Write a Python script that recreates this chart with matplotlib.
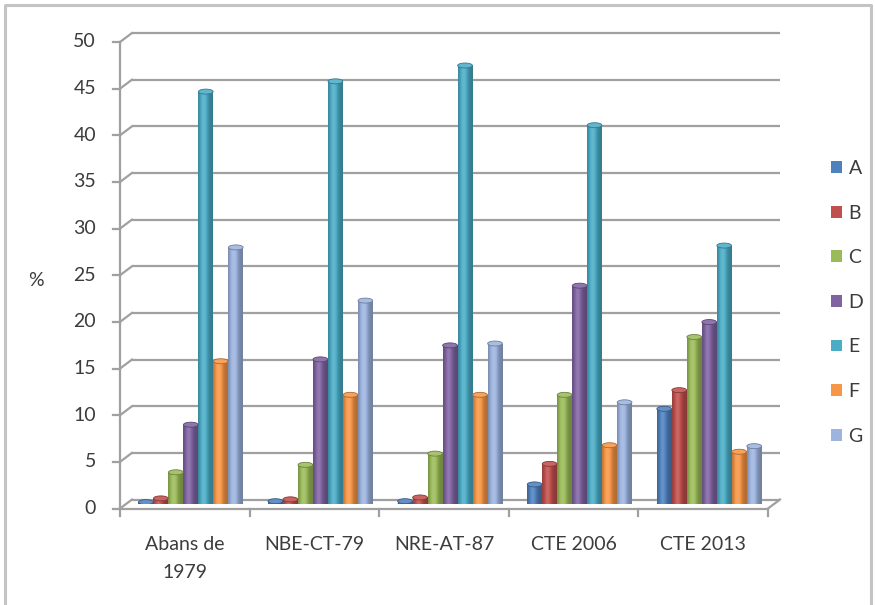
import numpy as np
import matplotlib
matplotlib.use("Agg")
import matplotlib.pyplot as plt
from matplotlib.patches import Ellipse, Patch
from matplotlib.colors import to_rgb
from matplotlib.lines import Line2D

plt.rcParams['font.family'] = ['Lato', 'DejaVu Sans']

# ---- data -------------------------------------------------------------
categories = ["Abans de\n1979", "NBE-CT-79", "NRE-AT-87", "CTE 2006", "CTE 2013"]
series_names = ["A", "B", "C", "D", "E", "F", "G"]
A = [0.2, 0.3, 0.3, 2.1, 10.2]
B = [0.6, 0.5, 0.7, 4.3, 12.2]
C = [3.4, 4.2, 5.4, 11.7, 17.9]
D = [8.5, 15.5, 17.0, 23.4, 19.5]
E = [44.2, 45.3, 47.0, 40.6, 27.7]
F = [15.3, 11.7, 11.7, 6.3, 5.6]
G = [27.5, 21.8, 17.2, 10.9, 6.2]
series_values = [A, B, C, D, E, F, G]
y_ticks = list(range(0, 55, 5))
colors = ["#4F81BD", "#C0504D", "#9BBB59", "#8064A2", "#4BACC6", "#F79646", "#9DB4DF"]

TEXT = "#3c3c3c"
GRID = "#a0a0a0"
FS = 14

W, H = 875, 605
fig = plt.figure(figsize=(W / 100, H / 100), dpi=100)
fig.patch.set_facecolor("white")

# plot region at mid depth (pixels)
x_left, x_right = 126, 774
y_base, y_top = 504, 37.5
ax = fig.add_axes([x_left / W, (H - y_base) / H,
                   (x_right - x_left) / W, (y_base - y_top) / H])
ax.set_xlim(0, len(categories))
ax.set_ylim(0, 50)
ax.set_autoscale_on(False)
ax.axis("off")

px_x = (x_right - x_left) / len(categories)   # pixels per category
px_y = (y_base - y_top) / 50                     # pixels per unit
dx = 6 / px_x      # depth shift, horizontal
dy = 4.5 / px_y    # depth shift, vertical
ncat = len(categories)

# back wall gridlines and side diagonals
for v in y_ticks:
    ax.plot([dx, ncat + dx], [v + dy, v + dy], color=GRID, lw=1.6,
            clip_on=False, zorder=1, solid_capstyle="butt")
    ax.plot([-dx, dx], [v - dy, v + dy], color=GRID, lw=1.6,
            clip_on=False, zorder=1)
    # front tick marks
    ax.plot([-dx - 7 / px_x, -dx], [v - dy, v - dy], color=GRID, lw=1.6,
            clip_on=False, zorder=1)
    ax.annotate(str(v), xy=(-dx, v - dy), xytext=(-24, 0),
                textcoords="offset pixels", ha="right", va="center",
                fontsize=FS, color=TEXT, annotation_clip=False)

# front vertical axis
ax.plot([-dx, -dx], [-dy, 50 - dy], color=GRID, lw=1.6, clip_on=False, zorder=1)
# floor: front edge and right diagonal
ax.plot([-dx, ncat - dx], [-dy, -dy], color=GRID, lw=1.6, clip_on=False, zorder=1)
ax.plot([ncat - dx, ncat + dx], [-dy, dy], color=GRID, lw=1.6, clip_on=False, zorder=1)
for i in range(ncat + 1):
    ax.plot([i - dx, i - dx], [-dy, -dy - 7 / px_y], color=GRID, lw=1.6,
            clip_on=False, zorder=1)

for i, lab in enumerate(categories):
    ax.annotate(lab, xy=(i + 0.5 - dx, -dy), xytext=(0, -27),
                textcoords="offset pixels", ha="center", va="top",
                fontsize=FS, color=TEXT, linespacing=1.85,
                annotation_clip=False)


def shade(rgb, t):
    rgb = np.asarray(rgb)
    if t >= 0:
        return rgb + (1 - rgb) * t
    return rgb * (1 + t)


# cylinder-shaded columns
nser = len(series_values)
group_w = 105 / px_x
bw = group_w / nser
u = np.linspace(0, 1, 40)
profile = -0.28 + 0.42 * np.exp(-((u - 0.38) / 0.28) ** 2)
cap_h = 5 / px_y

for j, (vals, col) in enumerate(zip(series_values, colors)):
    rgb = np.array(to_rgb(col))
    xs = np.arange(ncat) + 0.5 + (j - (nser - 1) / 2) * bw
    bars = ax.bar(xs, vals, bw, color=col, linewidth=0, zorder=3)
    grad = np.array([np.clip(shade(rgb, t), 0, 1) for t in profile])[None, :, :]
    for rect, x, v in zip(bars, xs, vals):
        # rounded base
        ax.add_patch(Ellipse((x, 0), bw, cap_h, facecolor=shade(rgb, -0.2),
                             edgecolor="none", zorder=2.9))
        im = ax.imshow(grad, extent=[x - bw / 2, x + bw / 2, 0, v],
                       aspect="auto", interpolation="bilinear", zorder=3.1)
        im.set_clip_path(rect)
        # top cap
        ax.add_patch(Ellipse((x, v), bw * 0.98, cap_h,
                             facecolor=shade(rgb, 0.12),
                             edgecolor=shade(rgb, -0.3), lw=0.6, zorder=3.2))

ax.set_xlim(0, ncat)
ax.set_ylim(0, 50)

# axis title
fig.text(36 / W, 1 - 280 / H, "%", ha="center", va="center", fontsize=FS, color=TEXT)

# legend
handles = [Patch(facecolor=c, edgecolor="none") for c in colors]
fig.legend(handles, series_names, loc="upper left",
           bbox_to_anchor=(831 / W, 1 - 160 / H), frameon=False, fontsize=FS,
           handlelength=0.55, handleheight=0.55, handletextpad=0.35,
           labelspacing=1.42, borderpad=0, borderaxespad=0, labelcolor=TEXT)

# outer frame
frame_kw = dict(color="#c4c4c4", lw=2.2, transform=fig.transFigure)
fig.add_artist(Line2D([4.5 / W, 4.5 / W, 870.5 / W, 870.5 / W],
                      [0, 1 - 4.5 / H, 1 - 4.5 / H, 0], **frame_kw))

fig.savefig("out.png", dpi=100, facecolor="white")
